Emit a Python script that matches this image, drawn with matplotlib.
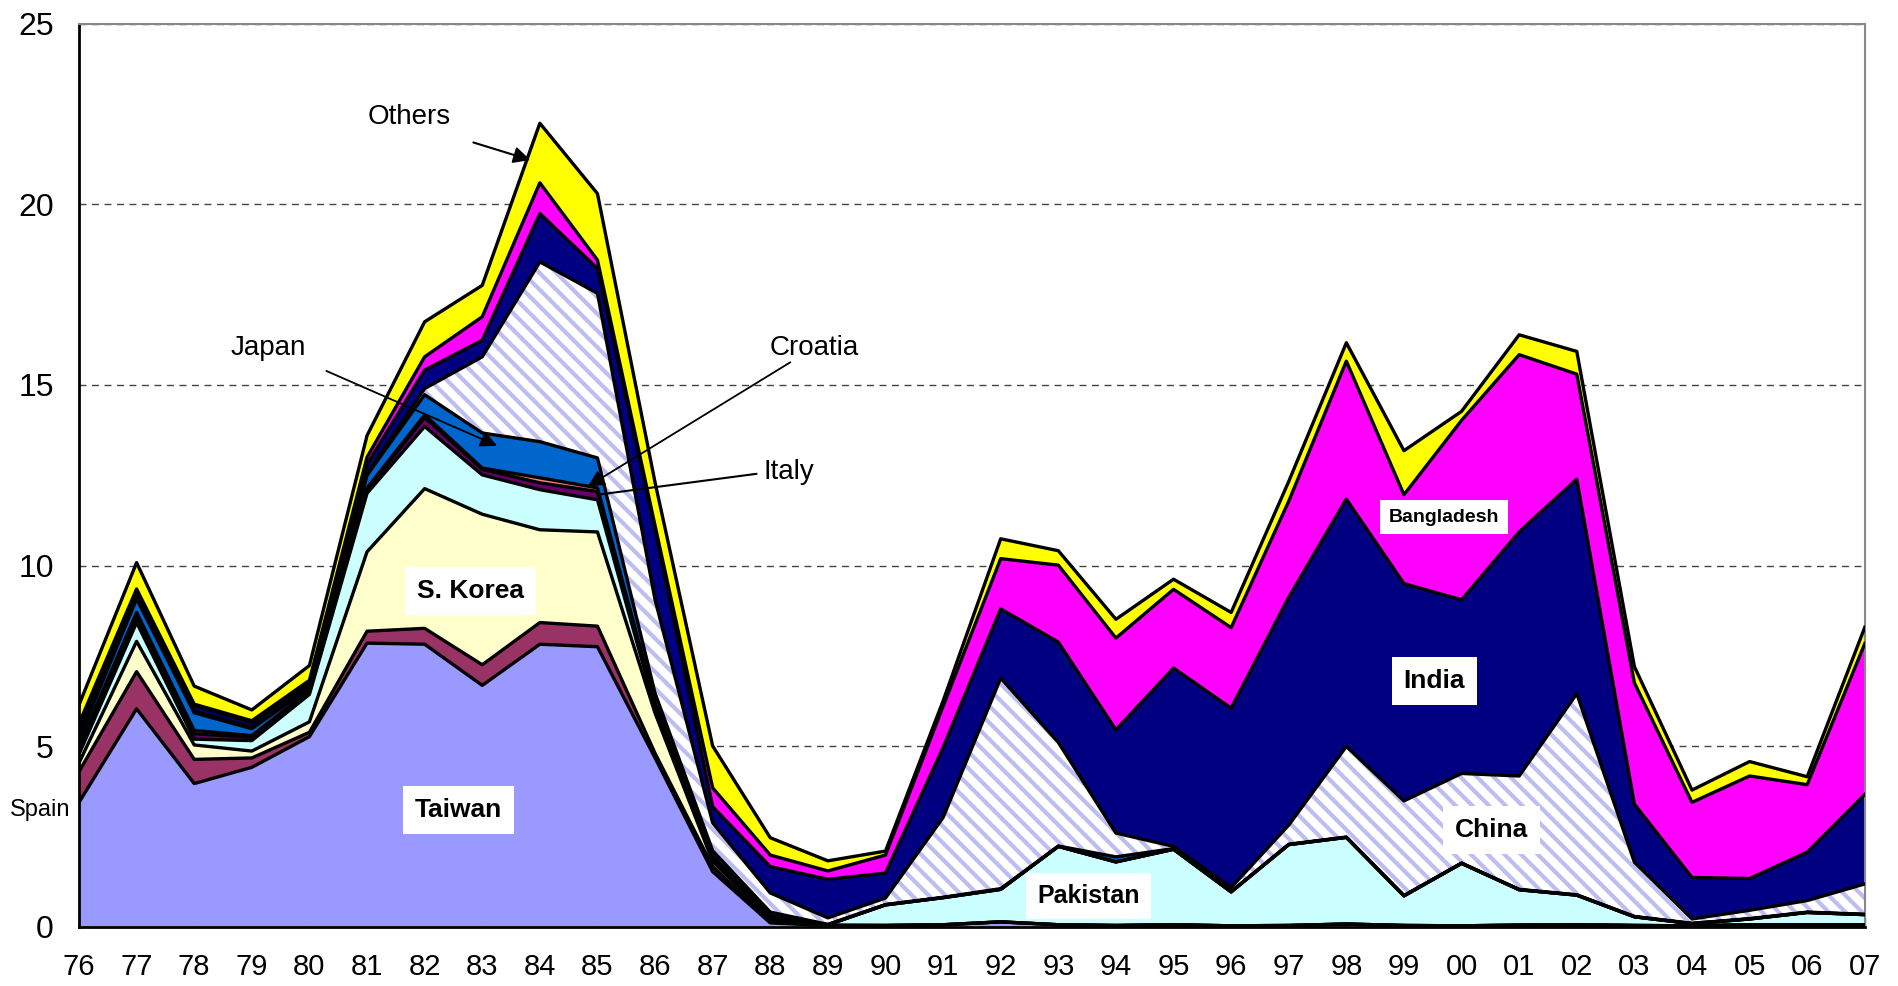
import matplotlib
matplotlib.use('Agg')
import matplotlib.pyplot as plt
import numpy as np

plt.rcParams['font.family'] = ['Liberation Sans', 'DejaVu Sans']
plt.rcParams['hatch.linewidth'] = 3.0

years = ['76', '77', '78', '79', '80', '81', '82', '83', '84', '85', '86', '87', '88', '89',
         '90', '91', '92', '93', '94', '95', '96', '97', '98', '99', '00', '01', '02', '03',
         '04', '05', '06', '07']

# stacked from bottom to top
taiwan = [3.44, 6.03, 3.96, 4.41, 5.26, 7.85, 7.82, 6.68, 7.82, 7.75, 4.67, 1.52, 0.10, 0.03,
          0.03, 0.05, 0.13, 0.05, 0.03, 0.05, 0.02, 0.03, 0.07, 0.03, 0.02, 0.04, 0.05, 0.03,
          0.02, 0.05, 0.05, 0.05]
spain = [0.85, 1.03, 0.67, 0.26, 0.12, 0.33, 0.44, 0.57, 0.60, 0.57, 0.13, 0.14, 0.02, 0,
         0, 0, 0, 0, 0, 0, 0, 0, 0, 0, 0, 0, 0, 0, 0, 0, 0, 0]
s_korea = [0.24, 0.84, 0.40, 0.19, 0.29, 2.20, 3.87, 4.17, 2.57, 2.61, 1.11, 0.14, 0.08, 0.01,
           0, 0, 0, 0, 0, 0, 0, 0, 0, 0, 0, 0, 0, 0, 0, 0, 0, 0]
pakistan = [0.24, 0.52, 0.16, 0.29, 0.76, 1.62, 1.72, 1.09, 1.11, 0.89, 0.14, 0.09, 0.05, 0.01,
            0.57, 0.75, 0.90, 2.17, 1.76, 2.09, 0.94, 2.24, 2.40, 0.82, 1.73, 0.98, 0.82, 0.24,
            0.06, 0.16, 0.34, 0.28]
italy = [0.18, 0.18, 0.15, 0.09, 0.07, 0.10, 0.25, 0.15, 0.19, 0.23, 0.10, 0.04, 0.03, 0,
         0, 0, 0, 0, 0, 0, 0, 0, 0, 0, 0, 0, 0, 0, 0, 0, 0, 0]
croatia = [0.05, 0.10, 0.09, 0.05, 0.03, 0.05, 0.07, 0.04, 0.14, 0.10, 0.05, 0.03, 0.02, 0,
           0, 0, 0, 0, 0, 0, 0, 0, 0, 0, 0, 0, 0, 0, 0, 0, 0, 0]
japan = [0.20, 0.38, 0.49, 0.19, 0.07, 0.35, 0.56, 0.97, 1.00, 0.83, 0.26, 0.14, 0.10, 0.01,
         0.01, 0.01, 0.02, 0.01, 0.14, 0.02, 0.01, 0.01, 0.01, 0.01, 0.01, 0.01, 0.01, 0.01,
         0.01, 0.01, 0.01, 0.01]
china = [0.10, 0.04, 0.05, 0.04, 0.05, 0.05, 0.17, 2.11, 4.98, 4.56, 2.59, 0.77, 0.53, 0.18,
         0.18, 2.21, 5.83, 2.87, 0.66, 0.06, 0.11, 0.53, 2.51, 2.62, 2.48, 3.14, 5.57, 1.50,
         0.12, 0.23, 0.32, 0.84]
india = [0.25, 0.18, 0.15, 0.13, 0.10, 0.25, 0.51, 0.46, 1.34, 0.69, 1.95, 0.45, 0.73, 1.07,
         0.69, 1.94, 1.92, 2.78, 2.86, 4.94, 4.97, 6.31, 6.85, 6.02, 4.81, 6.76, 5.94, 1.61,
         1.15, 0.88, 1.34, 2.48]
bangladesh = [0.07, 0.05, 0.04, 0.05, 0.07, 0.20, 0.37, 0.65, 0.85, 0.23, 0.10, 0.52, 0.32, 0.23,
              0.50, 1.14, 1.39, 2.13, 2.54, 2.18, 2.23, 2.66, 3.82, 2.46, 4.97, 4.91, 2.91, 3.36,
              2.08, 2.84, 1.87, 4.18]
others = [0.52, 0.73, 0.50, 0.30, 0.41, 0.60, 0.97, 0.87, 1.65, 1.84, 1.20, 1.16, 0.48, 0.28,
          0.11, 0.15, 0.55, 0.40, 0.52, 0.28, 0.42, 0.55, 0.51, 1.22, 0.25, 0.55, 0.63, 0.45,
          0.34, 0.40, 0.22, 0.45]

series = [taiwan, spain, s_korea, pakistan, italy, croatia, japan, china, india, bangladesh, others]
colors = ['#9999FF', '#993366', '#FFFFCC', '#CCFFFF', '#660066', '#FF8080', '#0066CC',
          None, '#000080', '#FF00FF', '#FFFF00']

fig = plt.figure(figsize=(18.99, 9.86), dpi=100)
ax = fig.add_axes([0.0416, 0.0603, 0.9404, 0.9154])

x = np.arange(len(years))
bottom = np.zeros(len(x))
tops = []
for vals, col in zip(series, colors):
    top = bottom + np.array(vals)
    if col is None:
        # China: white with light lavender stripes
        ax.fill_between(x, bottom, top, facecolor='white', edgecolor='#BDBDF2',
                        hatch='\\\\', linewidth=0, zorder=2)
    else:
        ax.fill_between(x, bottom, top, facecolor=col, linewidth=0, zorder=2)
    tops.append(top)
    bottom = top

for top in tops:
    ax.plot(x, top, color='black', lw=2.4, zorder=3, solid_joinstyle='round')

ax.set_xlim(0, len(x) - 1)
ax.set_ylim(0, 25)
ax.set_xticks(x)
ax.set_xticklabels(years)
ax.set_yticks([0, 5, 10, 15, 20, 25])
ax.yaxis.grid(True, linestyle=(0, (5, 4)), color='#444444', lw=1)
ax.set_axisbelow(True)
ax.tick_params(axis='x', direction='in', length=7, width=1, color='#666666',
               labelsize=21, pad=19)
ax.tick_params(axis='y', length=0, labelsize=23, pad=18)

for side in ['left', 'bottom']:
    ax.spines[side].set_color('black')
    ax.spines[side].set_linewidth(2)
for side in ['top', 'right']:
    ax.spines[side].set_color('#888888')
    ax.spines[side].set_linewidth(1.5)

# boxed labels
box = dict(facecolor='white', edgecolor='none', boxstyle='square,pad=0.45')
ax.text(6.58, 3.22, 'Taiwan', fontsize=19, fontweight='bold', ha='center', va='center',
        bbox=box, zorder=5)
ax.text(6.79, 9.30, 'S. Korea', fontsize=19, fontweight='bold', ha='center', va='center',
        bbox=box, zorder=5)
ax.text(17.52, 0.84, 'Pakistan', fontsize=18, fontweight='bold', ha='center', va='center',
        bbox=box, zorder=5)
ax.text(24.52, 2.68, 'China', fontsize=19, fontweight='bold', ha='center', va='center',
        bbox=box, zorder=5)
ax.text(23.53, 6.81, 'India', fontsize=19, fontweight='bold', ha='center', va='center',
        bbox=box, zorder=5)
ax.text(23.70, 11.34, 'Bangladesh', fontsize=14, fontweight='bold', ha='center', va='center',
        bbox=box, zorder=5)

ax.text(-0.67, 3.22, 'Spain', fontsize=17, ha='center', va='center', clip_on=False)

# pointer labels
ax.text(5.74, 22.43, 'Others', fontsize=20, ha='center', va='center')
ax.annotate('', xy=(7.88, 21.21), xytext=(6.80, 21.74),
            arrowprops=dict(arrowstyle='-|>', color='black', lw=1.5, mutation_scale=25),
            zorder=6)
ax.text(3.28, 16.03, 'Japan', fontsize=20, ha='center', va='center')
ax.annotate('', xy=(7.30, 13.29), xytext=(4.25, 15.42),
            arrowprops=dict(arrowstyle='-|>', color='black', lw=1.3, mutation_scale=25),
            zorder=6)
ax.text(12.77, 16.03, 'Croatia', fontsize=20, ha='center', va='center')
ax.annotate('', xy=(8.79, 12.15), xytext=(12.39, 15.67),
            arrowprops=dict(arrowstyle='-|>', color='black', lw=1.3, mutation_scale=25),
            zorder=6)
ax.text(11.88, 12.59, 'Italy', fontsize=20, ha='left', va='center')
ax.annotate('', xy=(9.0, 11.96), xytext=(11.81, 12.55),
            arrowprops=dict(arrowstyle='-', color='black', lw=1.5), zorder=6)

fig.savefig('out.png', dpi=100)
